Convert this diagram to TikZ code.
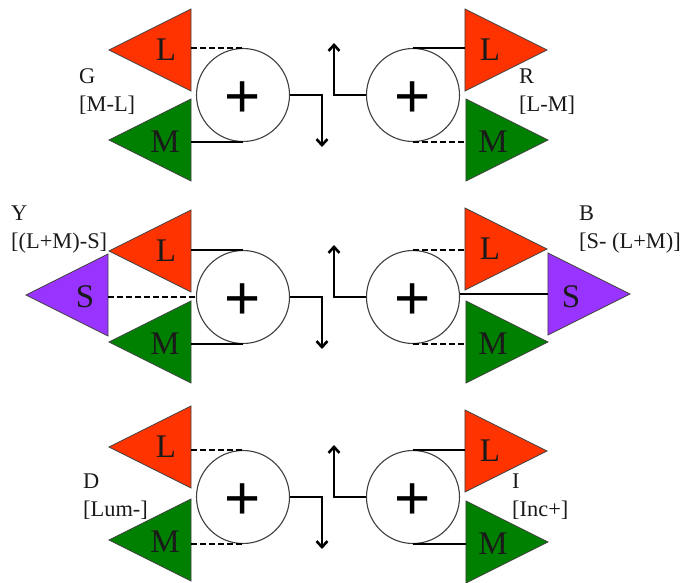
\documentclass[tikz,border=0pt]{standalone}
\usepackage{fontspec}
\setmainfont{Liberation Serif}
\newfontfamily\plusfont{Liberation Sans}
\usepackage{xcolor}
\usetikzlibrary{
  arrows.meta, shapes.geometric,
}
\definecolor{coneLong}  {HTML}{FF3300}
\definecolor{coneMid}   {HTML}{008000}
\definecolor{coneShort} {HTML}{9933FF}
\definecolor{cEdge}     {HTML}{404040}
\definecolor{cText}     {HTML}{1A1A1A}
\tikzset{
  coneBase/.style={isosceles triangle, isosceles triangle stretches,
    minimum width=82, minimum height=82, inner sep=0, anchor=apex,
    draw=cEdge, line width=0.8pt},
  coneLeft/.style={coneBase, shape border rotate=180},
  coneRight/.style={coneBase},
  coneText/.style={font=\fontsize{33}{33}\selectfont, text=cText, inner sep=0},
  sumNode/.style={circle, draw=cEdge, fill=white, line width=1.1pt, minimum size=93,
    inner sep=0, text height=45pt, text depth=0pt,
    font=\plusfont\fontsize{62}{62}\selectfont},
  excite/.style={line width=2.1pt},
  inhibit/.style={line width=2.1pt, dash pattern=on 6pt off 3pt},
  outLine/.style={line width=2.6pt, -{Straight Barb[length=6pt,width=11pt]}},
  typeText/.style={font=\fontsize{22.4}{28}\selectfont, text=cText, align=left, anchor=west, inner sep=0},
}
\begin{document}
\begin{tikzpicture}[x=1pt,y=-1pt]
  \useasboundingbox (0,0) rectangle (683,582);
  % one row per opponent pair: left cell, right cell
  \foreach \lf/\rt/\cy/\lla/\lma/\rla/\rma/\lls/\lms/\rls/\rms in
    {g/r/95/50/140/50/140/inhibit/excite/excite/inhibit,
     y/b/297/251/342/249/342/excite/excite/inhibit/inhibit,
     d/i/497/447/540/451/542/inhibit/inhibit/excite/excite}{
    \node[sumNode] (\lf C) at (243,\cy) {+};
    \node[sumNode] (\rt C) at (413,\cy) {+};
    \node[coneLeft, fill=coneLong] (\lf L) at (108,\lla) {};
    \node[coneLeft, fill=coneMid] (\lf M) at (108,\lma) {};
    \node[coneRight, fill=coneLong] (\rt L) at (548,\rla) {};
    \node[coneRight, fill=coneMid] (\rt M) at (549,\rma) {};
    \node[coneText] (\lf Ltext) at (166,\lla) {L};
    \node[coneText] (\lf Mtext) at (165,\lma+2) {M};
    \node[coneText] (\rt Ltext) at (490,\rla) {L};
    \node[coneText] (\rt Mtext) at (493,\rma+2) {M};
    \draw[\lls] (\lf L.lower side |- \lf C.north) -- (\lf C.north);
    \draw[\lms] (\lf M.lower side |- \lf C.south) -- (\lf C.south);
    \draw[\rls] (\rt C.north) -- (\rt L.lower side |- \rt C.north);
    \draw[\rms] (\rt C.south) -- (\rt M.lower side |- \rt C.south);
    \coordinate (\lf Out) at (322,\cy+52);
    \coordinate (\rt Out) at (334,\cy-52);
    \draw[outLine] (\lf C.east) -| (\lf Out);
    \draw[outLine] (\rt C.west) -| (\rt Out);
  }
  % short cones only in the middle row
  \node[coneLeft, fill=coneShort] (yS) at (25,295) {};
  \node[coneRight, fill=coneShort] (bS) at (631,294) {};
  \node[coneText] (yStext) at (85,297) {S};
  \node[coneText] (bStext) at (571,297) {S};
  \draw[inhibit] (yS.lower side |- yC.west) -- (yC.west);
  \draw[excite] (bC.east |- bS.lower side) -- (bS.lower side);
  \node[typeText] (gType) at (79,92) {G\\{[M-L]}};
  \node[typeText] (rType) at (519,92) {R\\{[L-M]}};
  \node[typeText] (yType) at (11,230) {Y\\{[(L+M)-S]}};
  \node[typeText] (bType) at (579,230) {B\\{[S- (L+M)]}};
  \node[typeText] (dType) at (83,497) {D\\{[Lum-]}};
  \node[typeText] (iType) at (512,497) {I\\{[Inc+]}};
\end{tikzpicture}
\end{document}
